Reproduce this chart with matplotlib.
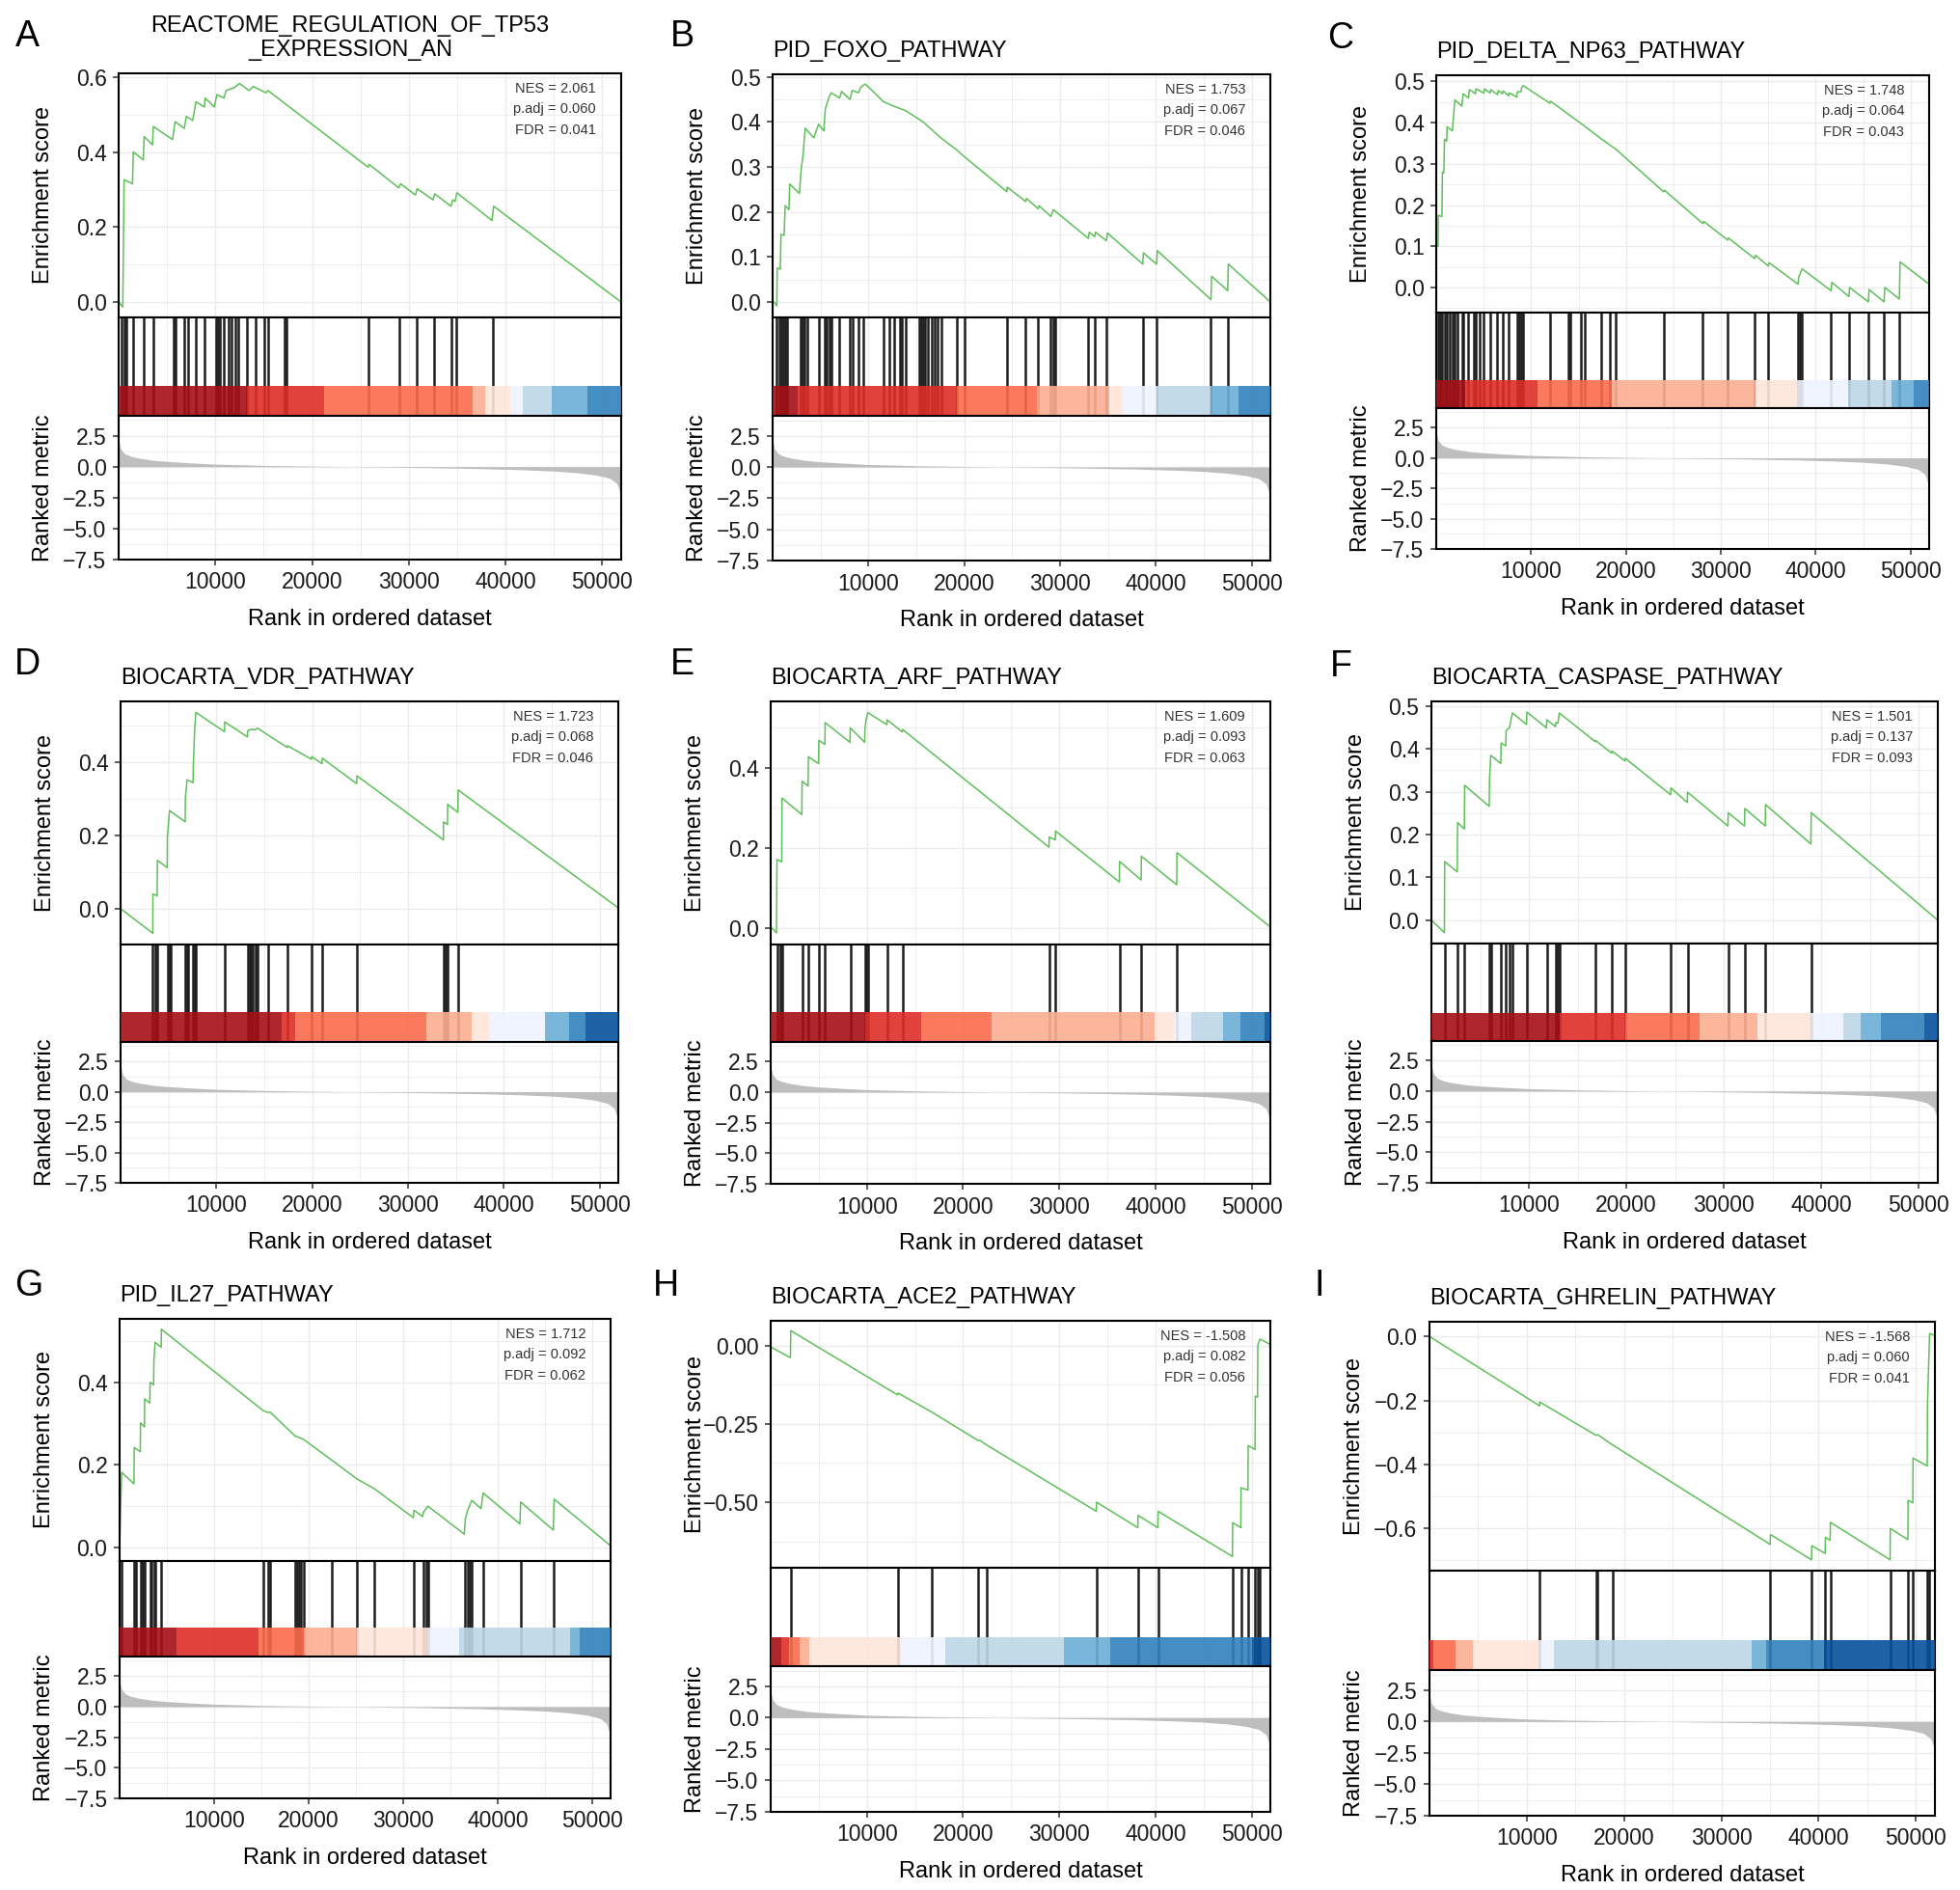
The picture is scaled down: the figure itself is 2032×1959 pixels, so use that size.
import matplotlib
matplotlib.use('Agg')
import matplotlib.pyplot as plt
from matplotlib.ticker import MultipleLocator, FixedLocator, FuncFormatter

plt.rcParams['font.family'] = ['Liberation Sans', 'DejaVu Sans']

# --- Configuração ---
largura, altura = 2032, 1959
nGenes = 51950

# --- Dados: métrica ranqueada (mesma lista para todos os painéis) ---
rankX = [0, 200, 600, 1200, 2000, 3500, 5000, 7500, 10000, 15000, 20000,
         26000, 32000, 38000, 42000, 45000, 47500, 49500, 50800, 51500, 51950]
rankMetric = [2.1, 1.45, 1.05, 0.85, 0.7, 0.52, 0.42, 0.3, 0.2, 0.1, 0.04,
              -0.02, -0.08, -0.17, -0.26, -0.36, -0.5, -0.7, -0.95, -1.35, -2.3]

paleta = ['#08519C', '#3182BD', '#6BAED6', '#BDD7E7', '#EFF3FF',
          '#FEE5D9', '#FCAE91', '#FB6A4A', '#DE2D26', '#A50F15']

letras = list('ABCDEFGHI')
titulos = ['REACTOME_REGULATION_OF_TP53\n_EXPRESSION_AN', 'PID_FOXO_PATHWAY',
           'PID_DELTA_NP63_PATHWAY', 'BIOCARTA_VDR_PATHWAY', 'BIOCARTA_ARF_PATHWAY',
           'BIOCARTA_CASPASE_PATHWAY', 'PID_IL27_PATHWAY', 'BIOCARTA_ACE2_PATHWAY',
           'BIOCARTA_GHRELIN_PATHWAY']
nes = [2.061, 1.753, 1.748, 1.723, 1.609, 1.501, 1.712, -1.508, -1.568]
padj = [0.060, 0.067, 0.064, 0.068, 0.093, 0.137, 0.092, 0.082, 0.060]
fdr = [0.041, 0.046, 0.043, 0.046, 0.063, 0.093, 0.062, 0.056, 0.041]

# --- A ---
hitsA = [303, 605, 821, 1513, 2593, 3544, 5705, 5921, 6786, 7218, 7996, 8860, 10027,
         10243, 10459, 10891, 11324, 11669, 12058, 12404, 13269, 14133, 15084, 15430,
         17158, 17374, 25802, 29044, 30773, 32588, 34446, 34879, 38682]
esXA = [0, 430, 560, 1430, 1513, 2550, 2636, 3500, 3587, 5575, 5835, 6786, 7000, 7650,
        7996, 8860, 8946, 9897, 10157, 10891, 11108, 11972, 12490, 13485, 13917, 15213,
        15430, 25802, 25889, 28957, 29130, 30686, 30859, 32501, 32674, 34359, 34533,
        34792, 34965, 38595, 38768, 51950]
esYA = [0.0, -0.013, 0.327, 0.316, 0.401, 0.380, 0.442, 0.420, 0.469, 0.434, 0.482,
        0.464, 0.496, 0.485, 0.535, 0.521, 0.545, 0.521, 0.554, 0.545, 0.565, 0.573,
        0.584, 0.565, 0.576, 0.559, 0.565, 0.360, 0.368, 0.305, 0.316, 0.286, 0.303,
        0.273, 0.289, 0.256, 0.273, 0.269, 0.292, 0.218, 0.256, 0.0]
barraA = [0, 13268, 21264, 36607, 37904, 40497, 41794, 44819, 48493, 51950]
coresA = [9, 8, 7, 6, 5, 4, 3, 2, 1]

# --- B ---
hitsB = [437, 655, 873, 1092, 1310, 1528, 2969, 3144, 3362, 3580, 4803, 5458, 5676,
         5894, 6112, 6986, 8077, 8383, 8950, 9474, 11570, 12137, 12661, 13316, 13535,
         13884, 15281, 15499, 15718, 15936, 16242, 16591, 16940, 17246, 17595, 19210,
         19996, 24450, 26414, 27724, 29034, 29252, 29471, 32964, 33618, 34841, 38639,
         40080, 45756, 47502]
esXB = [0, 437, 480, 800, 873, 1200, 1310, 1700, 1790, 2800, 3000, 3150, 3400, 4300,
        4803, 5350, 5500, 5900, 6112, 6986, 7200, 8077, 8300, 8950, 9200, 9474, 9700,
        11570, 12661, 13884, 15718, 17595, 19210, 19996, 24450, 24500, 26414, 26500,
        27724, 27800, 29034, 29300, 32964, 33050, 33618, 33700, 34841, 34950, 38639,
        38700, 40080, 40150, 45756, 45820, 47502, 47560, 51950]
esYB = [0.004, -0.009, 0.075, 0.073, 0.150, 0.148, 0.214, 0.205, 0.262, 0.241, 0.300,
        0.320, 0.386, 0.365, 0.395, 0.380, 0.429, 0.456, 0.465, 0.453, 0.468, 0.450,
        0.470, 0.465, 0.477, 0.482, 0.484, 0.445, 0.435, 0.425, 0.400, 0.364, 0.338,
        0.323, 0.245, 0.255, 0.223, 0.230, 0.207, 0.214, 0.190, 0.205, 0.141, 0.155,
        0.145, 0.155, 0.136, 0.153, 0.084, 0.109, 0.084, 0.114, 0.005, 0.057, 0.025,
        0.084, 0.0]
barraB = [0, 2619, 19208, 27590, 35143, 36452, 40076, 45751, 48676, 51950]
coresB = [9, 8, 7, 6, 5, 4, 3, 2, 1]

# --- C ---
hitsC = [218, 436, 654, 872, 1090, 1395, 1743, 1961, 2266, 2702, 2833, 3399, 3922,
         4140, 4576, 5012, 5665, 6450, 6973, 7627, 8498, 8716, 8934, 9152, 11985,
         13946, 14164, 15253, 15689, 17432, 18304, 18957, 23969, 28109, 30724, 33557,
         34995, 38133, 38350, 38568, 41619, 43493, 45541, 47197, 48810]
esXC = [0, 200, 218, 600, 654, 800, 872, 1100, 1150, 1700, 1961, 2700, 2833, 3399,
        3500, 4140, 4200, 5012, 5100, 5665, 5750, 6450, 6550, 6973, 7050, 7627, 7700,
        8498, 8550, 8934, 9000, 9152, 11985, 12050, 13946, 15253, 17432, 18957, 23969,
        24050, 28109, 28200, 30724, 30800, 33557, 33650, 34995, 35080, 38133, 38200,
        38568, 41619, 41700, 43493, 43570, 45541, 45620, 47197, 47280, 48810, 48890,
        51950]
esYC = [0.10, 0.10, 0.175, 0.172, 0.280, 0.278, 0.360, 0.355, 0.390, 0.380, 0.455,
        0.440, 0.470, 0.460, 0.480, 0.470, 0.482, 0.472, 0.482, 0.472, 0.480, 0.468,
        0.478, 0.470, 0.477, 0.465, 0.472, 0.462, 0.475, 0.475, 0.485, 0.490, 0.447,
        0.452, 0.420, 0.398, 0.360, 0.335, 0.232, 0.236, 0.155, 0.160, 0.115, 0.120,
        0.070, 0.078, 0.052, 0.060, 0.008, 0.025, 0.045, -0.008, 0.012, -0.022, 0.000,
        -0.035, -0.005, -0.035, 0.000, -0.028, 0.062, 0.008]
barraC = [0, 3051, 10677, 18522, 33645, 38134, 43363, 47940, 50337, 51950]
coresC = [9, 8, 7, 6, 5, 4, 3, 2, 1]

# --- D ---
hitsD = [3362, 3580, 3842, 4890, 5108, 5239, 6767, 6942, 7073, 7597, 7728, 7859,
         10871, 13273, 13447, 13622, 13840, 14059, 14277, 15368, 17420, 19953, 21044,
         24668, 33706, 33924, 34142, 35234]
esXD = [0, 3362, 3380, 3820, 3842, 4870, 4890, 5108, 6740, 6767, 6942, 7570, 7597,
        7728, 7859, 10850, 10871, 13240, 13273, 13622, 14059, 14277, 17400, 17420,
        19930, 19953, 21020, 21044, 24650, 24668, 33690, 33706, 34120, 34142, 35210,
        35234, 51950]
esYD = [0.0, -0.067, 0.040, 0.035, 0.132, 0.112, 0.196, 0.268, 0.237, 0.302, 0.352,
        0.344, 0.391, 0.486, 0.536, 0.483, 0.510, 0.469, 0.486, 0.490, 0.488, 0.493,
        0.440, 0.445, 0.408, 0.415, 0.396, 0.411, 0.341, 0.363, 0.188, 0.237, 0.230,
        0.285, 0.263, 0.324, 0.002]
barraD = [0, 16764, 18204, 31956, 36671, 38504, 44311, 46799, 48546, 51950]
coresD = [9, 8, 7, 6, 5, 4, 2, 1, 0]

# --- E ---
hitsE = [653, 958, 1176, 3266, 3920, 5008, 5662, 8275, 9799, 9929, 10104, 12107,
         13718, 28961, 29614, 36277, 38541, 42244]
esXE = [0, 600, 653, 1150, 1176, 3240, 3266, 3890, 3920, 4980, 5008, 5640, 5662,
        8250, 8275, 9770, 9799, 9929, 10104, 12080, 12107, 13690, 13718, 28940, 28961,
        29590, 29614, 36250, 36277, 38520, 38541, 42220, 42244, 51950]
esYE = [0.003, -0.012, 0.171, 0.165, 0.324, 0.283, 0.366, 0.354, 0.427, 0.410, 0.468,
        0.458, 0.512, 0.463, 0.499, 0.463, 0.497, 0.520, 0.537, 0.507, 0.519, 0.489,
        0.495, 0.2015, 0.227, 0.220, 0.242, 0.115, 0.166, 0.120, 0.179, 0.108, 0.188,
        0.003]
barraE = [0, 9798, 15677, 22992, 39932, 41935, 43677, 47030, 48859, 51384, 51950]
coresE = [9, 8, 7, 6, 5, 4, 3, 2, 1, 0]

# --- F ---
hitsF = [1363, 2683, 3406, 5961, 6089, 7153, 7664, 8005, 8303, 9793, 11837, 12774,
         12987, 13115, 16819, 18522, 19885, 24569, 26272, 30445, 32148, 34277, 38961]
esXF = [0, 1330, 1363, 2650, 2683, 3380, 3406, 5930, 5961, 6089, 7120, 7153, 7630,
        7664, 8005, 8303, 9760, 9793, 11800, 11837, 12740, 12774, 12987, 13115, 16800,
        16819, 18500, 18522, 19860, 19885, 24540, 24569, 26250, 26272, 30420, 30445,
        32120, 32148, 34250, 34277, 38930, 38961, 51950]
esYF = [0.0, -0.029, 0.137, 0.113, 0.228, 0.213, 0.315, 0.266, 0.328, 0.385, 0.366,
        0.414, 0.407, 0.443, 0.449, 0.484, 0.457, 0.486, 0.449, 0.468, 0.452, 0.462,
        0.460, 0.484, 0.417, 0.420, 0.390, 0.395, 0.372, 0.378, 0.293, 0.309, 0.275,
        0.299, 0.220, 0.251, 0.220, 0.261, 0.220, 0.270, 0.178, 0.251, 0.0]
barraF = [0, 13115, 19886, 27465, 33426, 38962, 42241, 44072, 46073, 50587, 51950]
coresF = [9, 8, 7, 6, 5, 4, 3, 2, 1, 0]

# --- G ---
hitsG = [221, 1547, 1768, 2211, 2432, 2653, 3227, 3404, 3625, 3758, 4421, 15164,
         15695, 15916, 18568, 18789, 19010, 19231, 19452, 22414, 25111, 26968, 31168,
         32141, 32406, 32627, 36562, 36827, 37004, 37269, 38463, 42442, 45978]
esXG = [0, 221, 1520, 1547, 2190, 2211, 2630, 2653, 3200, 3227, 3600, 3625, 3758,
        4400, 4421, 15164, 15695, 15916, 18568, 19452, 22414, 25111, 26968, 31080,
        31168, 32052, 32141, 32627, 36473, 36562, 36827, 37269, 38242, 38463, 42353,
        42442, 45890, 45978, 51950]
esYG = [0.0, 0.182, 0.154, 0.242, 0.232, 0.302, 0.292, 0.360, 0.350, 0.400, 0.394,
        0.450, 0.497, 0.485, 0.529, 0.332, 0.327, 0.328, 0.270, 0.262, 0.212, 0.166,
        0.142, 0.072, 0.090, 0.075, 0.085, 0.100, 0.032, 0.067, 0.090, 0.114, 0.094,
        0.132, 0.057, 0.110, 0.042, 0.117, 0.004]
barraG = [0, 6057, 14678, 19453, 25113, 32585, 35901, 47617, 48634, 51950]
coresG = [9, 8, 7, 6, 5, 4, 3, 2, 1]

# --- H ---
hitsH = [2090, 13196, 16767, 21557, 22428, 33882, 38193, 40284, 48036, 48907, 49647,
         50388, 50649, 50866]
esXH = [0, 2050, 2090, 13196, 13250, 16767, 21557, 21700, 22428, 33860, 33882, 38170,
        38193, 40260, 40284, 48010, 48036, 48880, 48907, 49620, 49647, 50360, 50388,
        50620, 50649, 50866, 51950]
esYH = [-0.005, -0.039, 0.047, -0.158, -0.152, -0.213, -0.303, -0.302, -0.317,
        -0.529, -0.500, -0.581, -0.542, -0.581, -0.529, -0.673, -0.565, -0.581,
        -0.454, -0.461, -0.319, -0.332, -0.162, -0.165, 0.000, 0.020, 0.003]
barraH = [0, 1089, 1872, 3048, 4050, 13499, 18202, 30482, 35272, 50077, 51950]
coresH = [9, 8, 7, 6, 5, 4, 3, 2, 1, 0]

# --- I ---
hitsI = [11342, 17119, 17289, 18819, 35046, 39294, 40696, 41206, 47365, 49192, 49702,
         51188, 51401]
esXI = [0, 11320, 11342, 17119, 17289, 18819, 35020, 35046, 39270, 39294, 40670,
        40696, 41180, 41206, 47340, 47365, 49170, 49192, 49680, 49702, 51160, 51188,
        51401, 51950]
esYI = [0.0, -0.217, -0.205, -0.309, -0.307, -0.339, -0.650, -0.619, -0.698, -0.654,
        -0.678, -0.628, -0.637, -0.581, -0.698, -0.600, -0.635, -0.512, -0.520, -0.380,
        -0.405, -0.210, 0.009, 0.003]
barraI = [0, 425, 2676, 4460, 11256, 12743, 33132, 34619, 40566, 51950]
coresI = [8, 7, 6, 5, 4, 3, 2, 1, 0]

esTicks = [[0, 0.2, 0.4, 0.6], [0, 0.1, 0.2, 0.3, 0.4, 0.5], [0, 0.1, 0.2, 0.3, 0.4, 0.5],
           [0, 0.2, 0.4], [0, 0.2, 0.4], [0, 0.1, 0.2, 0.3, 0.4, 0.5],
           [0, 0.2, 0.4], [-0.5, -0.25, 0.0], [-0.6, -0.4, -0.2, 0.0]]

# --- Layout (pixels): esquerda, direita, topo, fimES, topoBarra, topoRank, base ---
caixas = [
    (123, 644, 76, 329, 400, 431, 580),
    (801, 1317, 77, 329, 400, 431, 581),
    (1489, 2000, 78, 324, 394, 423, 569),
    (125, 641, 727, 979, 1049, 1080, 1226),
    (799, 1317, 727, 979, 1049, 1080, 1227),
    (1484, 2009, 727, 978, 1050, 1079, 1226),
    (124, 633, 1367, 1618, 1687, 1717, 1864),
    (799, 1317, 1369, 1625, 1697, 1727, 1878),
    (1482, 2006, 1370, 1628, 1700, 1731, 1882),
]
esLimites = [(-0.041, 0.611), (-0.0345, 0.506), (-0.061, 0.515), (-0.098, 0.566),
             (-0.041, 0.565), (-0.0545, 0.511), (-0.033, 0.554), (-0.709, 0.0785),
             (-0.732, 0.046)]
esMenor = [0.1, 0.05, 0.05, 0.1, 0.1, 0.05, 0.1, 0.125, 0.1]
esFormato = ['%.1f'] * 7 + ['%.2f', '%.1f']
letraPos = [(28, 38), (707, 38), (1390, 40), (28, 689), (707, 689), (1390, 691),
            (30, 1333), (690, 1333), (1368, 1333)]

paineis = [
    (hitsA, esXA, esYA, barraA, coresA), (hitsB, esXB, esYB, barraB, coresB),
    (hitsC, esXC, esYC, barraC, coresC), (hitsD, esXD, esYD, barraD, coresD),
    (hitsE, esXE, esYE, barraE, coresE), (hitsF, esXF, esYF, barraF, coresF),
    (hitsG, esXG, esYG, barraG, coresG), (hitsH, esXH, esYH, barraH, coresH),
    (hitsI, esXI, esYI, barraI, coresI),
]

corGrade = '#ebebeb'
corVerde = '#5fbf5a'
tamTexto = 17


def retangulo(caixa, topo, base):
    esq, dire = caixa[0], caixa[1]
    return [esq / largura, 1 - base / altura, (dire - esq) / largura, (base - topo) / altura]


def formatador(fmt):
    return FuncFormatter(lambda v, p: (fmt % v).replace('-', '\u2212'))


def estilizar(ax):
    for s in ax.spines.values():
        s.set_linewidth(1.5)
        s.set_color('black')
    ax.set_xlim(0, nGenes)
    ax.xaxis.set_major_locator(FixedLocator([10000, 20000, 30000, 40000, 50000]))
    ax.xaxis.set_minor_locator(MultipleLocator(5000))
    ax.grid(which='major', color=corGrade, linewidth=1.0)
    ax.grid(which='minor', color=corGrade, linewidth=0.6)
    ax.set_axisbelow(True)
    ax.tick_params(which='minor', length=0)
    ax.tick_params(which='major', length=4, width=1.1, color='#333333',
                   labelsize=16.5, labelcolor='#1a1a1a', pad=5)


def desenharPainel(fig, i):
    hits, esX, esY, barra, cores = paineis[i]
    caixa = caixas[i]
    esq, dire, topo, fimEs, topoBarra, topoRank, base = caixa

    # curva de enrichment score
    ax1 = fig.add_axes(retangulo(caixa, topo, fimEs))
    estilizar(ax1)
    ax1.plot(esX, esY, color=corVerde, linewidth=1.1)
    ax1.set_ylim(*esLimites[i])
    ax1.set_yticks(esTicks[i])
    ax1.yaxis.set_minor_locator(MultipleLocator(esMenor[i]))
    ax1.yaxis.set_major_formatter(formatador(esFormato[i]))
    ax1.tick_params(axis='x', which='both', length=0, labelbottom=False)
    textos = [f'NES = {nes[i]:.3f}', f'p.adj = {padj[i]:.3f}', f'FDR = {fdr[i]:.3f}']
    for k, t in enumerate(textos):
        ax1.annotate(t, xy=(1, 1), xycoords='axes fraction',
                     xytext=(-26 / 1.389, -(16 + 21.5 * k) / 1.389),
                     textcoords='offset points', ha='right', va='center',
                     fontsize=10.5, color='#333333')

    # genes do conjunto + barra de cores
    ax2 = fig.add_axes(retangulo(caixa, fimEs, topoRank))
    estilizar(ax2)
    ax2.set_ylim(0, 1)
    ax2.set_yticks([])
    ax2.tick_params(axis='x', which='both', length=0, labelbottom=False)
    ax2.vlines(hits, 0, 1, color='#1e1e1e', linewidth=1.8, zorder=2)
    fracBarra = (topoRank - topoBarra) / (topoRank - fimEs)
    larguras = [barra[k + 1] - barra[k] for k in range(len(barra) - 1)]
    ax2.bar(barra[:-1], fracBarra, width=larguras, align='edge',
            color=[paleta[c] for c in cores], alpha=0.9, linewidth=0, zorder=3)

    # métrica ranqueada
    ax3 = fig.add_axes(retangulo(caixa, topoRank, base))
    estilizar(ax3)
    ax3.fill_between(rankX, 0, rankMetric, color='#bebebe', linewidth=0, zorder=2)
    ax3.set_ylim(-7.5, 4.1)
    ax3.set_yticks([-7.5, -5.0, -2.5, 0.0, 2.5])
    ax3.yaxis.set_minor_locator(MultipleLocator(1.25))
    ax3.yaxis.set_major_formatter(formatador('%.1f'))

    # textos
    fig.text((esq - 78) / largura, 1 - (topo + fimEs) / 2 / altura, 'Enrichment score',
             rotation=90, ha='center', va='center', fontsize=tamTexto)
    fig.text((esq - 78) / largura, 1 - (topoRank + base) / 2 / altura, 'Ranked metric',
             rotation=90, ha='center', va='center', fontsize=tamTexto)
    fig.text((esq + dire) / 2 / largura, 1 - (base + 62) / altura,
             'Rank in ordered dataset', ha='center', va='center', fontsize=tamTexto)
    if i == 0:
        fig.text(363 / largura, 1 - (topo - 13) / altura, titulos[i], ha='center',
                 va='bottom', multialignment='center', fontsize=tamTexto)
    else:
        fig.text(esq / largura, 1 - (topo - 13) / altura, titulos[i], ha='left',
                 va='bottom', fontsize=tamTexto)
    lx, ly = letraPos[i]
    fig.text(lx / largura, 1 - ly / altura, letras[i], ha='center', va='center',
             fontsize=27)


if __name__ == '__main__':
    fig = plt.figure(figsize=(largura / 100, altura / 100), dpi=100)
    for i in range(9):
        desenharPainel(fig, i)
    fig.savefig('out.png', dpi=100)
    plt.close(fig)
